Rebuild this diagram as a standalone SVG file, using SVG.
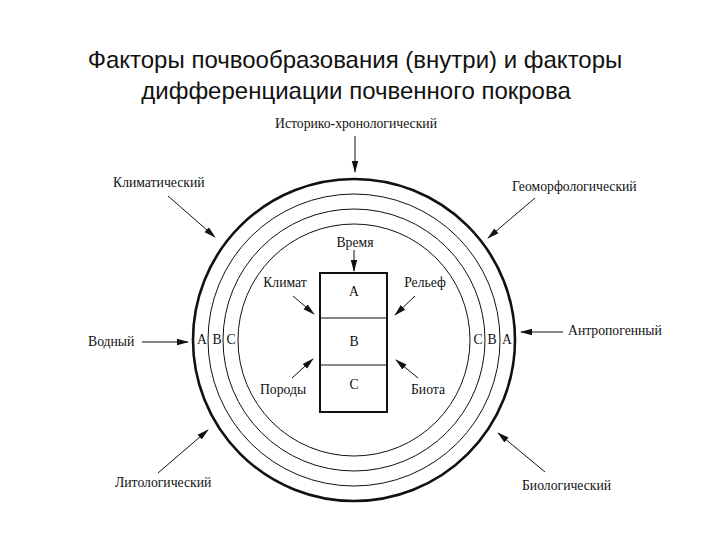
<svg xmlns="http://www.w3.org/2000/svg" width="720" height="540" viewBox="0 0 720 540">
<style>
.title{font-family:"Liberation Sans",Arial,sans-serif;font-size:24px;fill:#111;text-anchor:middle}
.lbl{font-family:"Liberation Serif","Times New Roman",serif;font-size:13.7px;fill:#111}
.c{text-anchor:middle}
.ring{fill:none;stroke:#111;stroke-width:1}
.outer{fill:none;stroke:#111;stroke-width:2.6}
.arr{stroke:#111;stroke-width:1;fill:none;marker-end:url(#ah)}
</style>
<defs>
<marker id="ah" viewBox="0 0 12 8" refX="11" refY="4" markerWidth="12" markerHeight="8" markerUnits="userSpaceOnUse" orient="auto">
<path d="M0,0.8 L12,4 L0,7.2 Z" fill="#111"/>
</marker>
</defs>
<rect width="720" height="540" fill="#fff"/>
<g id="title">
<text class="title" x="355" y="68">Факторы почвообразования (внутри) и факторы</text>
<text class="title" x="356" y="99">дифференциации почвенного покрова</text>
</g>
<g id="circles">
<circle class="outer" cx="354" cy="340" r="161"/>
<circle class="ring" cx="354" cy="340" r="146"/>
<circle class="ring" cx="354" cy="340" r="131"/>
<circle class="ring" cx="354" cy="340" r="116"/>
</g>
<g id="ring-labels">
<text class="lbl c" x="202" y="344">A</text>
<text class="lbl c" x="217" y="344">B</text>
<text class="lbl c" x="231" y="344">C</text>
<text class="lbl c" x="478" y="344">C</text>
<text class="lbl c" x="492" y="344">B</text>
<text class="lbl c" x="507" y="344">A</text>
</g>
<g id="profile">
<rect x="320" y="273" width="67" height="139" fill="none" stroke="#111" stroke-width="2"/>
<line x1="320" y1="318" x2="387" y2="318" stroke="#111" stroke-width="1"/>
<line x1="320" y1="365" x2="387" y2="365" stroke="#111" stroke-width="1"/>
<text class="lbl c" x="354" y="296">A</text>
<text class="lbl c" x="354" y="346">B</text>
<text class="lbl c" x="354" y="389">C</text>
</g>
<g id="n-vremya"><text class="lbl c" x="355" y="247">Время</text></g>
<g id="n-klimat"><text class="lbl c" x="285" y="287">Климат</text></g>
<g id="n-relef"><text class="lbl c" x="425" y="287">Рельеф</text></g>
<g id="n-porody"><text class="lbl c" x="283" y="394">Породы</text></g>
<g id="n-biota"><text class="lbl c" x="428" y="394">Биота</text></g>
<g id="n-ist"><text class="lbl c" x="356" y="128">Историко-хронологический</text></g>
<g id="n-klim"><text class="lbl" x="113" y="187">Климатический</text></g>
<g id="n-geo"><text class="lbl" x="512" y="191">Геоморфологический</text></g>
<g id="n-vod"><text class="lbl" x="88" y="346">Водный</text></g>
<g id="n-antr"><text class="lbl" x="568" y="335">Антропогенный</text></g>
<g id="n-lit"><text class="lbl" x="115" y="487">Литологический</text></g>
<g id="n-bio"><text class="lbl" x="522" y="490">Биологический</text></g>
<g id="connectors">
<line class="arr" x1="354" y1="250" x2="354" y2="271"/>
<line class="arr" x1="293" y1="296" x2="314" y2="314"/>
<line class="arr" x1="415" y1="296" x2="395" y2="315"/>
<line class="arr" x1="292" y1="378" x2="313" y2="359"/>
<line class="arr" x1="418" y1="378" x2="396" y2="360"/>
<line class="arr" x1="355" y1="136" x2="355" y2="172"/>
<line class="arr" x1="168" y1="196" x2="215" y2="237"/>
<line class="arr" x1="535" y1="198" x2="488" y2="238"/>
<line class="arr" x1="142" y1="342" x2="188" y2="342"/>
<line class="arr" x1="563" y1="332" x2="521" y2="332"/>
<line class="arr" x1="158" y1="473" x2="208" y2="430"/>
<line class="arr" x1="545" y1="472" x2="498" y2="433"/>
</g>
</svg>
